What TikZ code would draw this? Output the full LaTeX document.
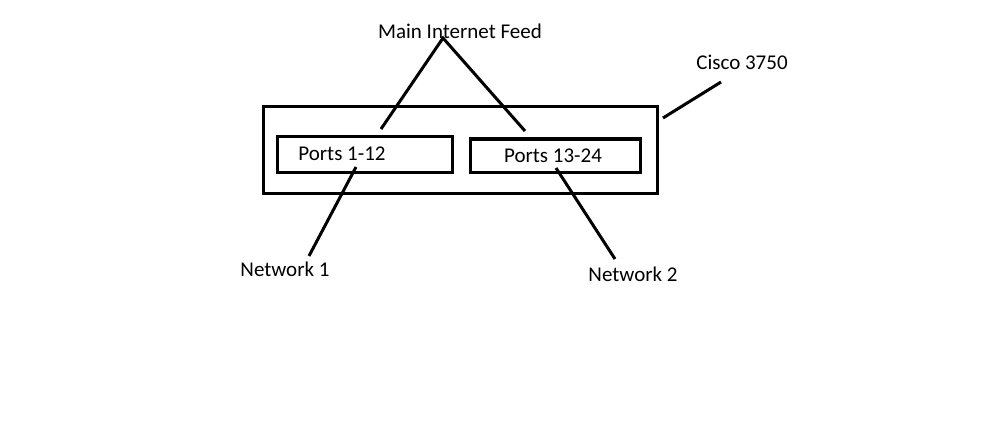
\documentclass[tikz,border=0pt]{standalone}
\usepackage{fontspec}
\setmainfont{Carlito}
\begin{document}
\begin{tikzpicture}[x=1pt,y=-1pt,
  lbl/.style={inner sep=0pt,font=\fontsize{21}{25}\selectfont},
  boxs/.style={draw,line width=3pt,inner sep=0pt},
  wire/.style={line width=3pt}]
\useasboundingbox (0,0) rectangle (998,425);
\node[boxs,minimum width=394pt,minimum height=86pt] (sw) at (460,150) {};
\node[boxs,minimum width=175pt,minimum height=35pt] (p1) at (364.5,154.5) {};
\node[boxs,minimum width=170pt,minimum height=33pt] (p2) at (555,155.5) {};
\node[lbl] (t1) at (342,154) {Ports 1-12};
\node[lbl] (t2) at (553,156) {Ports 13-24};
\node[lbl] (feed) at (460,31) {Main Internet Feed};
\node[lbl] (cisco) at (742,62) {Cisco 3750};
\node[lbl] (n1) at (285,269) {Network 1};
\node[lbl] (n2) at (633,274) {Network 2};
\coordinate (apex) at (443,38);
\coordinate (fl) at (381,129);
\coordinate (fr) at (525,131);
\coordinate (a1) at (356,167);
\coordinate (b1) at (309,256);
\coordinate (a2) at (556,168);
\coordinate (b2) at (615,259);
\coordinate (c1) at (663,118);
\coordinate (c2) at (721,82);
\draw[wire] (fl) -- (apex) -- (fr);
\draw[wire] (a1) -- (b1);
\draw[wire] (a2) -- (b2);
\draw[wire] (c1) -- (c2);
\end{tikzpicture}
\end{document}
